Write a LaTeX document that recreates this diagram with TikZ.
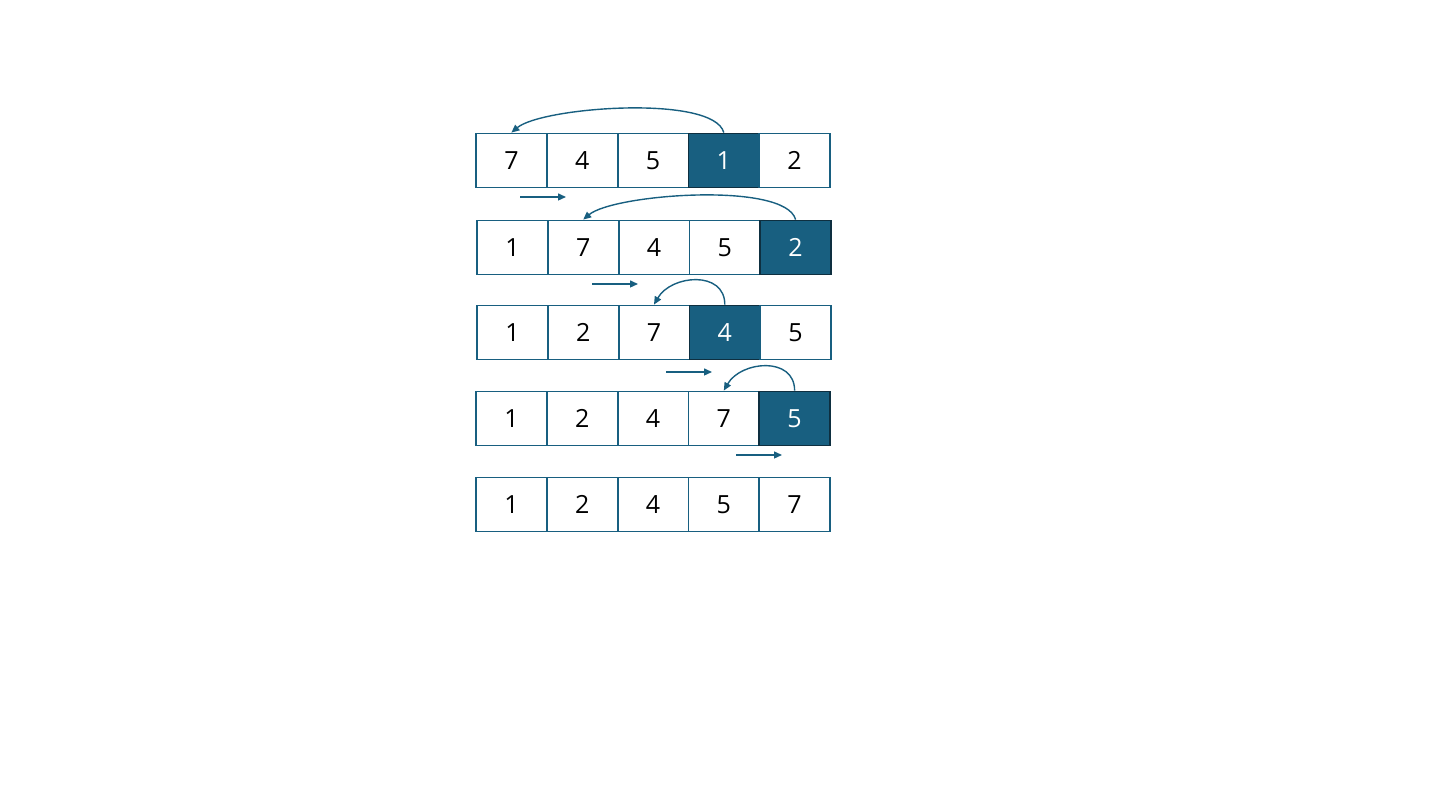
\documentclass[tikz,border=0pt]{standalone}
\usepackage{fontspec}
\setmainfont{Open Sans}
\usetikzlibrary{arrows.meta}
\definecolor{SortBlue}{HTML}{185F80}
\definecolor{SortDark}{HTML}{0E2F40}

\begin{document}
\begin{tikzpicture}[x=1pt,y=1pt,
  cell/.style={draw=SortBlue,line width=1.8pt,minimum width=70.8pt,
    minimum height=54pt,inner sep=0pt,font=\fontsize{25}{29}\selectfont},
  key/.style={cell,draw=SortDark,fill=SortBlue,text=white},
  mv/.style={SortBlue,line width=1.4pt,-{Triangle[length=8pt,width=7pt]}},
  hop/.style={SortBlue,line width=1.4pt,-{Triangle[length=8pt,width=7pt]}}]
  \useasboundingbox (0,0) rectangle (1440,810);
  % the five passes
  \foreach \row/\px/\py/\vals/\hl in {1/476/649.5/{7,4,5,1,2}/4,
      2/477/562.5/{1,7,4,5,2}/5, 3/477/477.5/{1,2,7,4,5}/4,
      4/476/391.5/{1,2,4,7,5}/5, 5/476/305.5/{1,2,4,5,7}/0}{
    \foreach \val [count=\col] in \vals{
      \def\sty{cell}\ifnum\col=\hl\def\sty{key}\fi
      \node[\sty] (r\row c\col) at (\px+35.4+70.8*\col-70.8,\py) {\val};
    }
  }
  % shift arrows
  \coordinate (s1) at (520,613); \coordinate (e1) at (566,613);
  \coordinate (s2) at (592,526); \coordinate (e2) at (638,526);
  \coordinate (s3) at (666,438); \coordinate (e3) at (712,438);
  \coordinate (s4) at (736,355); \coordinate (e4) at (782,355);
  \foreach \i in {1,...,4}{
    \draw[mv] (s\i) -- (e\i);
  }
  % insertions
  \draw[hop] (r1c4.north) to[out=105,in=40,looseness=0.48] (r1c1.north);
  \draw[hop] (r2c5.north) to[out=105,in=40,looseness=0.48] (r2c2.north);
  \draw[hop] (r3c4.north) to[out=90,in=60,looseness=1.25] (r3c3.north);
  \draw[hop] (r4c5.north) to[out=90,in=60,looseness=1.25] (r4c4.north);
\end{tikzpicture}
\end{document}
